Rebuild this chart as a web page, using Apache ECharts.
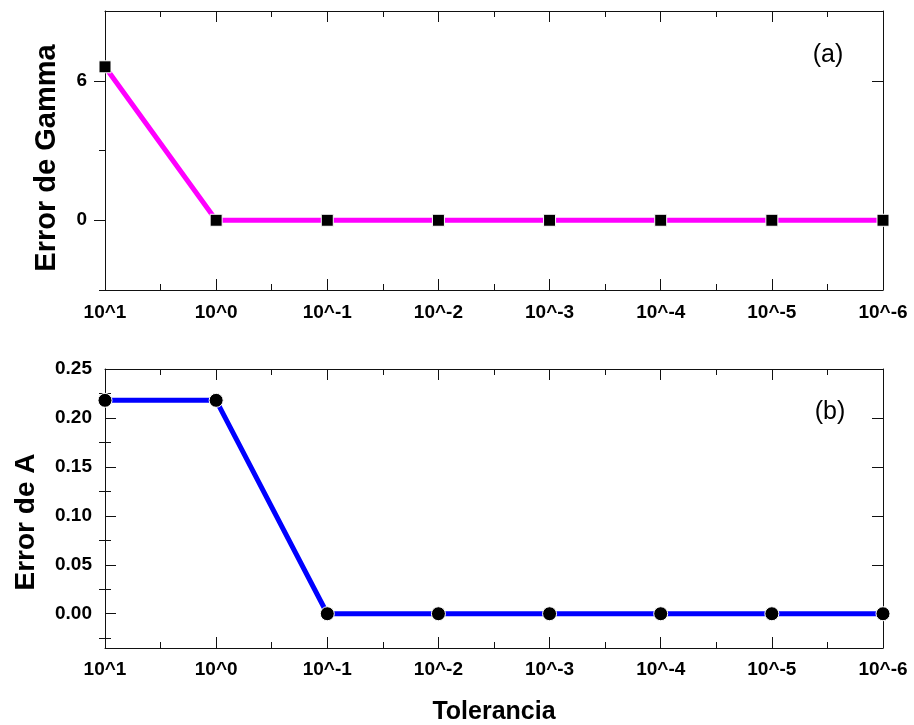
<!DOCTYPE html>
<html>
<head>
<meta charset="utf-8">
<script src="https://cdn.jsdelivr.net/npm/echarts@6/dist/echarts.min.js"></script>
<style>
html,body{margin:0;padding:0;background:#fff;}
#chart{width:914px;height:725px;}
</style>
</head>
<body>
<div id="chart"></div>
<script>
// ---- data ----
const xLabels = ['10^1', '10^0', '10^-1', '10^-2', '10^-3', '10^-4', '10^-5', '10^-6'];
const gammaError = [6.6, 0, 0, 0, 0, 0, 0, 0];
const aError = [0.218, 0.218, 0, 0, 0, 0, 0, 0];
const gammaMajorTicks = [0, 6];
const gammaMinorTicks = [-3, 3];
const aMajorTicks = [0, 0.05, 0.10, 0.15, 0.20, 0.25];
const aMinorTicks = [-0.025, 0.025, 0.075, 0.125, 0.175, 0.225];

const FONT = '"Liberation Sans", Arial, sans-serif';
const AXC = '#111';

const chart = echarts.init(document.getElementById('chart'), null, {renderer: 'canvas'});

function xAxes(gridIndex, margin) {
  const base = {
    type: 'value', gridIndex: gridIndex, min: 0, max: xLabels.length - 1, interval: 1,
    axisLine: {show: true, onZero: false, lineStyle: {color: AXC, width: 1}},
    axisTick: {show: true, inside: true, length: 11, lineStyle: {color: AXC, width: 1}},
    minorTick: {show: true, splitNumber: 2, length: 6, lineStyle: {color: AXC, width: 1}},
    splitLine: {show: false}, minorSplitLine: {show: false}
  };
  return [
    Object.assign({}, base, {
      position: 'bottom',
      axisLabel: {
        show: true, margin: margin, color: '#000', fontFamily: FONT, fontWeight: 'bold', fontSize: 19,
        formatter: function (v) { return xLabels[Math.round(v)] || ''; }
      }
    }),
    Object.assign({}, base, {position: 'top', axisLabel: {show: false}})
  ];
}

function yAxes(gridIndex, min, max, major, minor, labelInside, fmt, labelMargin) {
  const line = {show: true, onZero: false, lineStyle: {color: AXC, width: 1}};
  const common = {type: 'value', gridIndex: gridIndex, min: min, max: max,
    splitLine: {show: false}, minorSplitLine: {show: false}};
  return [
    Object.assign({}, common, {
      position: 'left', axisLine: line,
      axisTick: {show: true, inside: labelInside, length: 11, customValues: major, lineStyle: {color: AXC, width: 1}},
      axisLabel: {show: true, customValues: major, margin: labelMargin, color: '#000',
        fontFamily: FONT, fontWeight: 'bold', fontSize: 19, formatter: fmt}
    }),
    Object.assign({}, common, {
      position: 'left', axisLine: {show: false},
      axisTick: {show: true, inside: labelInside, length: 6, customValues: minor, lineStyle: {color: AXC, width: 1}},
      axisLabel: {show: false}
    }),
    Object.assign({}, common, {
      position: 'right', axisLine: line,
      axisTick: {show: true, inside: true, length: 11, customValues: major, lineStyle: {color: AXC, width: 1}},
      axisLabel: {show: false}
    }),
    Object.assign({}, common, {
      position: 'right', axisLine: {show: false},
      axisTick: {show: true, inside: true, length: 6, customValues: minor, lineStyle: {color: AXC, width: 1}},
      axisLabel: {show: false}
    })
  ];
}

const option = {
  backgroundColor: '#fff',
  animation: false,
  grid: [
    {left: 105, right: 31, top: 11, height: 279},
    {left: 105, right: 31, top: 369, height: 279}
  ],
  xAxis: [].concat(xAxes(0, 13), xAxes(1, 12)),
  yAxis: [].concat(
    yAxes(0, -3, 9, gammaMajorTicks, gammaMinorTicks, false, function (v) { return String(v); }, 18),
    yAxes(1, -0.035, 0.25, aMajorTicks, aMinorTicks, true, function (v) { return v.toFixed(2); }, 13)
  ),
  graphic: [
    {type: 'text', x: 47, y: 158, rotation: Math.PI / 2,
      style: {text: 'Error de Gamma', fontFamily: FONT, fontWeight: 'bold', fontSize: 29, fill: '#000',
        align: 'center', verticalAlign: 'middle'}},
    {type: 'text', x: 26, y: 522, rotation: Math.PI / 2,
      style: {text: 'Error de A', fontFamily: FONT, fontWeight: 'bold', fontSize: 28, fill: '#000',
        align: 'center', verticalAlign: 'middle'}},
    {type: 'text', x: 494, y: 712,
      style: {text: 'Tolerancia', fontFamily: FONT, fontWeight: 'bold', fontSize: 25, fill: '#000',
        align: 'center', verticalAlign: 'middle'}},
    {type: 'text', x: 828, y: 55,
      style: {text: '(a)', fontFamily: FONT, fontSize: 25, fill: '#000', align: 'center', verticalAlign: 'middle'}},
    {type: 'text', x: 830, y: 412,
      style: {text: '(b)', fontFamily: FONT, fontSize: 25, fill: '#000', align: 'center', verticalAlign: 'middle'}}
  ],
  series: [
    {
      type: 'line', xAxisIndex: 0, yAxisIndex: 0,
      data: gammaError.map(function (v, i) { return [i, v]; }),
      symbol: 'rect', symbolSize: 12, showAllSymbol: true, clip: true,
      lineStyle: {color: '#ff00ff', width: 5},
      itemStyle: {color: '#000', borderColor: '#fff', borderWidth: 1}
    },
    {
      type: 'line', xAxisIndex: 2, yAxisIndex: 4,
      data: aError.map(function (v, i) { return [i, v]; }),
      symbol: 'circle', symbolSize: 14, showAllSymbol: true, clip: true,
      lineStyle: {color: '#0000ff', width: 5},
      itemStyle: {color: '#000', borderColor: '#fff', borderWidth: 1}
    }
  ]
};
chart.setOption(option);
</script>
</body>
</html>
